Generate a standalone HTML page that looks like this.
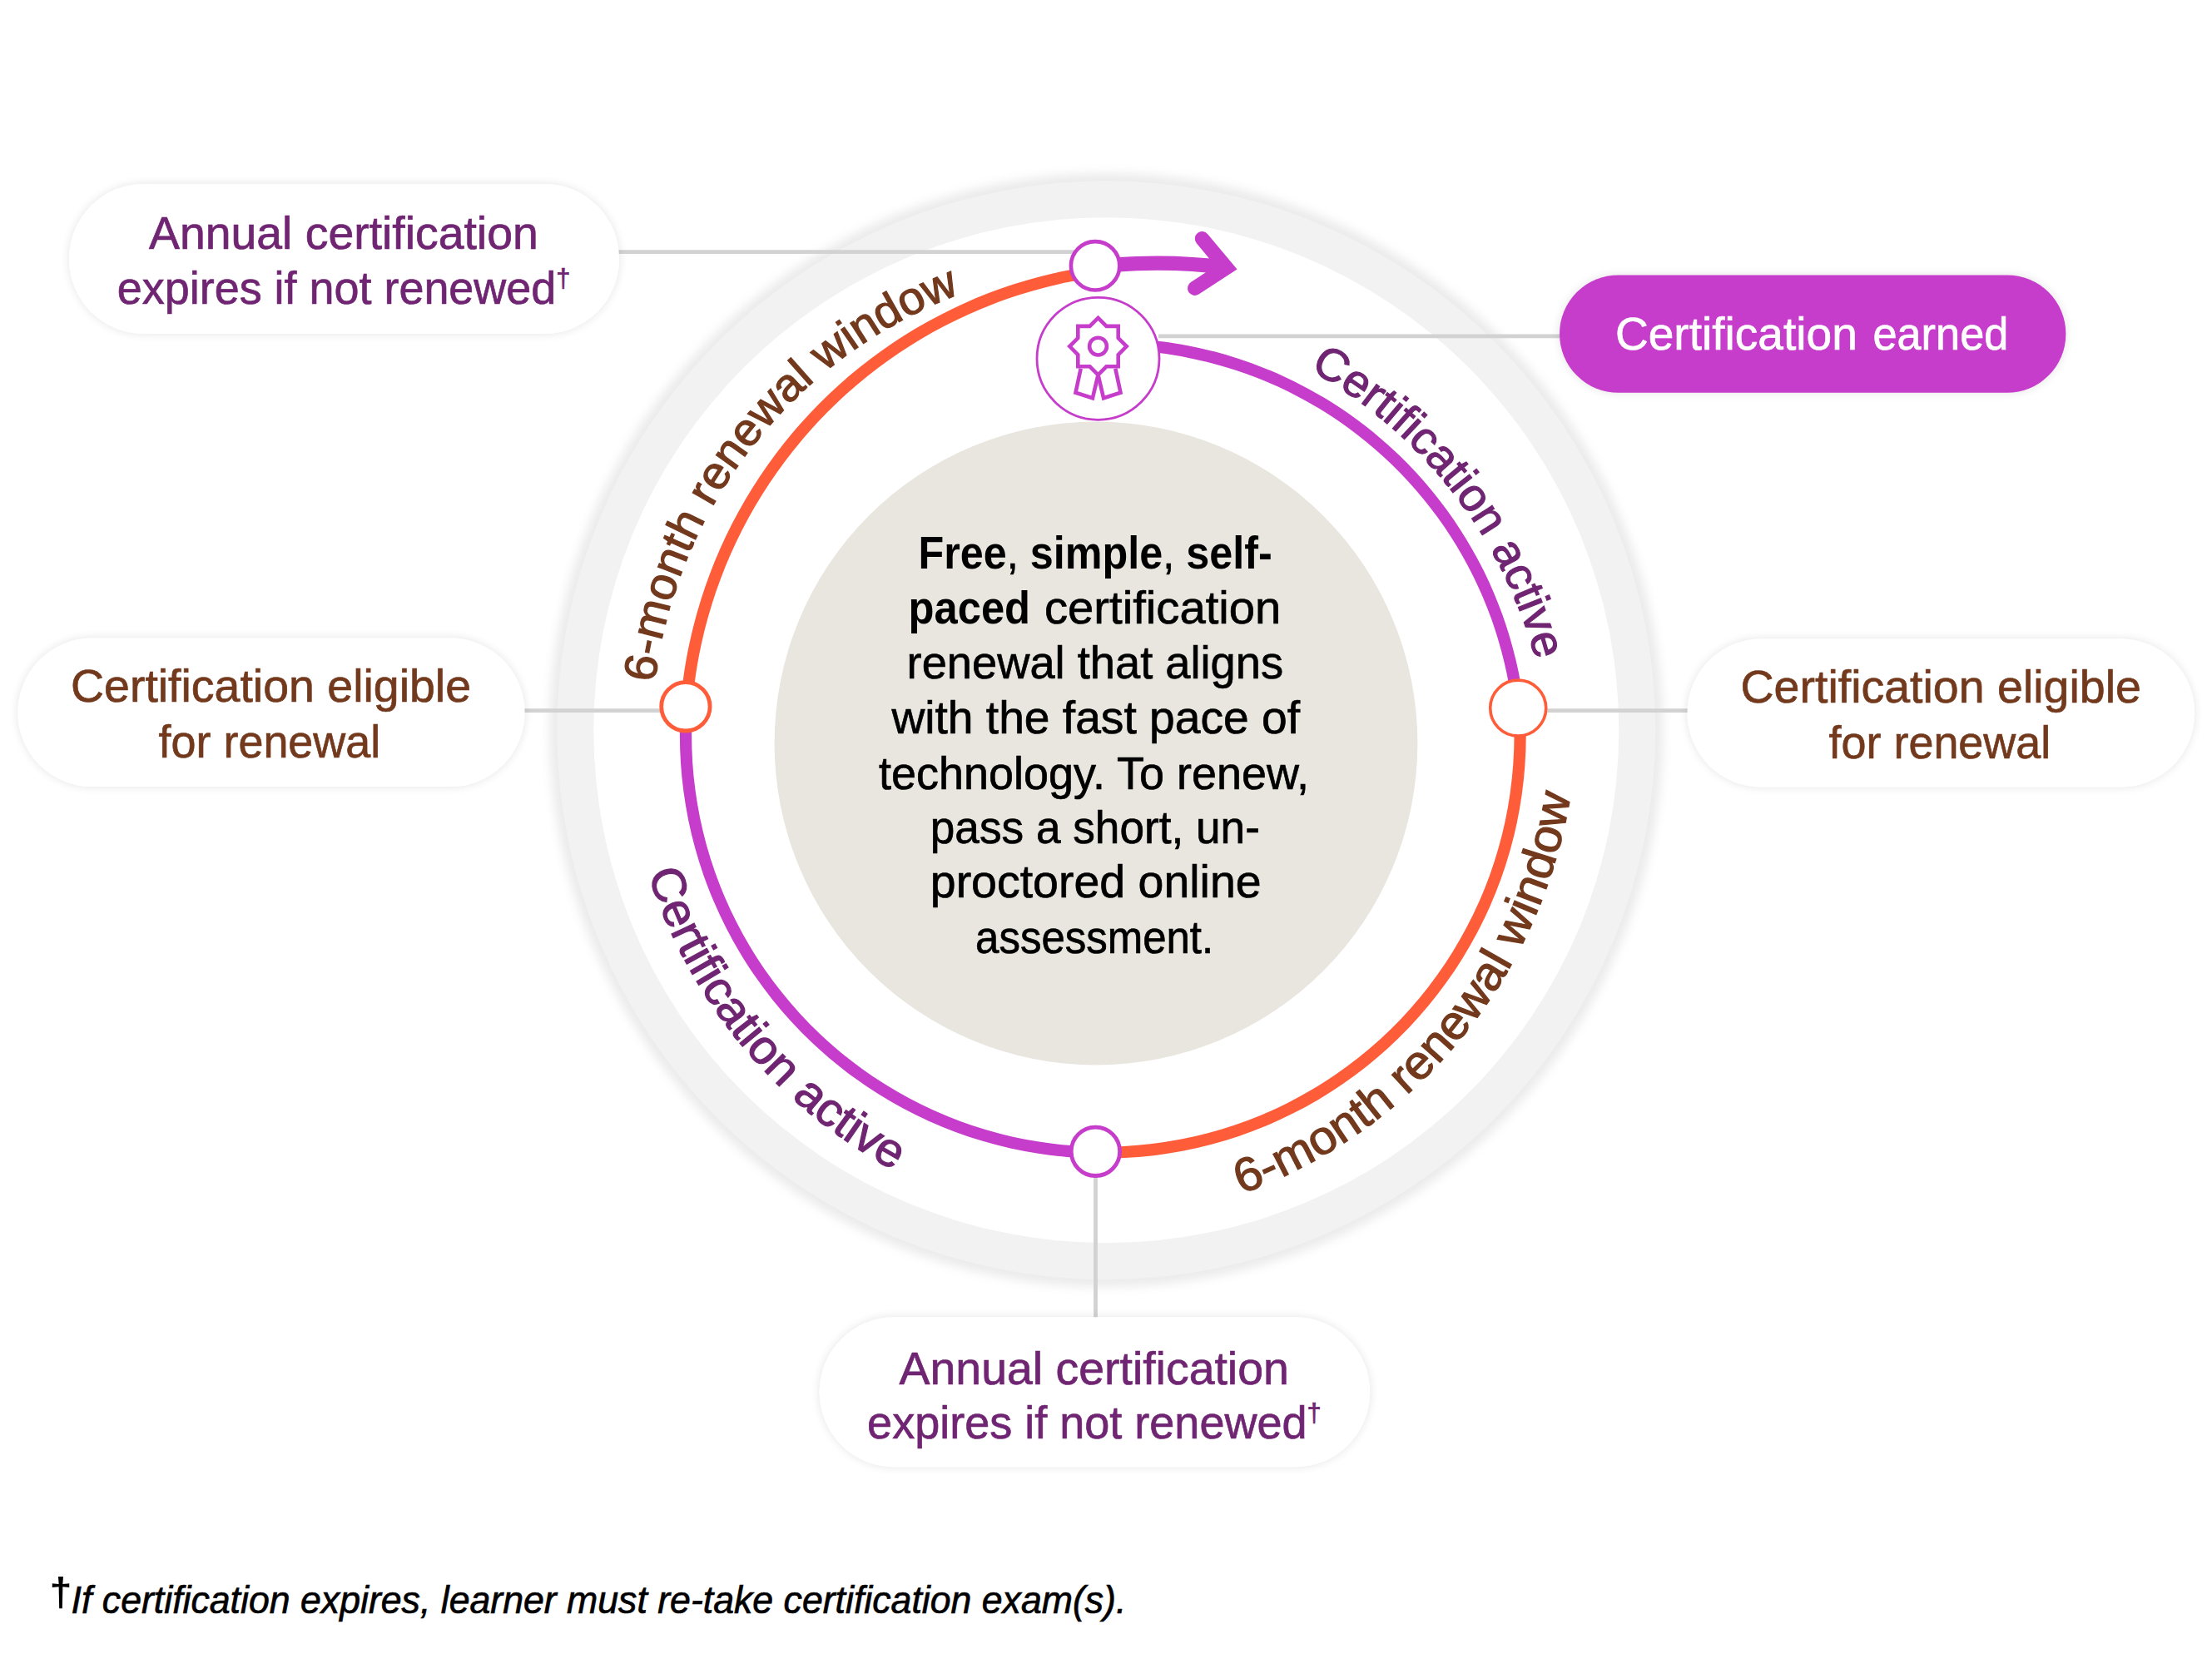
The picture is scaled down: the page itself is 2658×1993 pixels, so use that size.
<!DOCTYPE html>
<html lang="en"><head><meta charset="utf-8"><title>Certification renewal</title>
<style>html,body{margin:0;padding:0;background:#fff}svg{display:block}text{font-family:"Liberation Sans", sans-serif}</style></head>
<body>
<svg width="2658" height="1993" viewBox="0 0 2658 1993">
<defs>
<filter id="sh" x="-10%" y="-30%" width="120%" height="160%"><feGaussianBlur in="SourceAlpha" stdDeviation="6"/><feComponentTransfer><feFuncA type="linear" slope="0.11"/></feComponentTransfer><feMerge><feMergeNode/><feMergeNode in="SourceGraphic"/></feMerge></filter>
<filter id="shr" x="-5%" y="-5%" width="110%" height="110%"><feGaussianBlur stdDeviation="6"/></filter>
</defs>
<rect width="2658" height="1993" fill="#fff"/>
<circle cx="1329.3" cy="877.2" r="669" fill="#000" fill-opacity="0.078" filter="url(#shr)"/>
<circle cx="1329.3" cy="877.2" r="660" fill="#f2f2f2"/>
<circle cx="1329.3" cy="877.2" r="616" fill="#fff"/>
<g stroke="#d2d2d2" stroke-width="4.8" fill="none">
<line x1="700" y1="302.6" x2="1300" y2="302.6"/>
<line x1="1392" y1="403.8" x2="1900" y2="403.8"/>
<line x1="600" y1="853.7" x2="800" y2="853.7"/>
<line x1="1850" y1="853.7" x2="2060" y2="853.7"/>
<line x1="1316.5" y1="1400" x2="1316.5" y2="1600"/>
</g>
<rect x="83" y="221" width="661" height="180" rx="90.0" ry="90.0" fill="#fff" filter="url(#sh)"/>
<rect x="21.5" y="766.6" width="609" height="178.5" rx="89.25" ry="89.25" fill="#fff" filter="url(#sh)"/>
<rect x="2027.6" y="767.5" width="609.5" height="178" rx="89.0" ry="89.0" fill="#fff" filter="url(#sh)"/>
<rect x="984.7" y="1582.3" width="661.4" height="180" rx="90.0" ry="90.0" fill="#fff" filter="url(#sh)"/>
<rect x="1874" y="330.4" width="608.4" height="141.4" rx="70.7" ry="70.7" fill="#c63ccb" filter="url(#sh)"/>
<circle cx="1317" cy="893" r="386.4" fill="#e8e6df"/>
<g fill="none" stroke-width="14.2">
<path d="M1375.1,415.1 C1379.7,415.7 1393.8,417.0 1403.1,418.3 C1412.4,419.7 1421.7,421.3 1430.9,423.2 C1440.1,425.0 1449.3,427.2 1458.4,429.5 C1467.5,431.9 1476.5,434.6 1485.5,437.5 C1494.4,440.4 1503.3,443.5 1512.1,447.0 C1520.8,450.4 1529.5,454.0 1538.1,457.9 C1546.6,461.8 1555.1,466.0 1563.4,470.4 C1571.7,474.7 1579.9,479.4 1588.0,484.2 C1596.0,489.1 1604.0,494.1 1611.7,499.4 C1619.5,504.7 1627.1,510.3 1634.6,516.0 C1642.0,521.7 1649.3,527.7 1656.4,533.8 C1663.6,540.0 1670.5,546.3 1677.3,552.9 C1684.0,559.4 1690.6,566.2 1697.0,573.1 C1703.3,580.0 1709.5,587.1 1715.5,594.4 C1721.4,601.7 1727.2,609.1 1732.7,616.7 C1738.3,624.3 1743.6,632.1 1748.7,640.0 C1753.8,647.9 1758.7,655.9 1763.3,664.1 C1768.0,672.3 1772.4,680.6 1776.6,689.0 C1780.7,697.4 1784.7,706.0 1788.4,714.7 C1792.0,723.3 1795.5,732.1 1798.7,740.9 C1801.8,749.8 1804.8,758.7 1807.4,767.7 C1810.1,776.8 1812.5,785.9 1814.7,795.0 C1816.9,804.2 1818.8,813.4 1820.4,822.6 C1822.0,831.9 1823.8,845.9 1824.5,850.6" stroke="#c63ccb"/>
<path d="M1825.5,850.5 C1825.7,856.3 1826.6,873.5 1826.6,885.0 C1826.6,896.6 1826.1,908.1 1825.3,919.6 C1824.5,931.0 1823.2,942.5 1821.6,953.9 C1820.0,965.3 1818.0,976.7 1815.6,987.9 C1813.2,999.2 1810.4,1010.4 1807.2,1021.4 C1804.0,1032.5 1800.5,1043.5 1796.6,1054.3 C1792.6,1065.1 1788.3,1075.8 1783.7,1086.4 C1779.0,1096.9 1774.0,1107.3 1768.6,1117.4 C1763.2,1127.6 1757.5,1137.6 1751.4,1147.4 C1745.4,1157.2 1739.0,1166.8 1732.2,1176.1 C1725.5,1185.5 1718.5,1194.6 1711.1,1203.5 C1703.8,1212.3 1696.1,1221.0 1688.2,1229.3 C1680.2,1237.6 1672.0,1245.7 1663.5,1253.5 C1655.0,1261.2 1646.2,1268.7 1637.2,1275.9 C1628.2,1283.0 1618.9,1289.9 1609.4,1296.4 C1599.9,1302.9 1590.2,1309.2 1580.3,1315.0 C1570.4,1320.9 1560.2,1326.4 1550.0,1331.5 C1539.7,1336.7 1529.2,1341.5 1518.6,1346.0 C1507.9,1350.4 1497.1,1354.5 1486.2,1358.2 C1475.3,1361.9 1464.3,1365.2 1453.2,1368.1 C1442.0,1371.1 1430.8,1373.6 1419.5,1375.8 C1408.2,1377.9 1396.8,1379.7 1385.3,1381.1 C1373.9,1382.5 1362.4,1383.5 1350.9,1384.0 C1339.4,1384.6 1322.1,1384.5 1316.4,1384.6" stroke="#ff5c39"/>
<path d="M1316.4,1384.6 C1310.7,1384.3 1293.8,1383.8 1282.6,1382.9 C1271.3,1381.9 1260.1,1380.6 1248.9,1378.8 C1237.8,1377.1 1226.6,1375.0 1215.6,1372.6 C1204.6,1370.1 1193.7,1367.2 1182.9,1364.0 C1172.0,1360.8 1161.3,1357.3 1150.7,1353.3 C1140.1,1349.4 1129.7,1345.1 1119.4,1340.5 C1109.1,1335.8 1098.9,1330.8 1089.0,1325.5 C1079.0,1320.2 1069.3,1314.5 1059.7,1308.5 C1050.1,1302.6 1040.7,1296.3 1031.6,1289.6 C1022.4,1283.0 1013.5,1276.1 1004.8,1268.9 C996.1,1261.7 987.7,1254.1 979.5,1246.4 C971.3,1238.6 963.4,1230.5 955.8,1222.2 C948.2,1213.9 940.8,1205.3 933.8,1196.5 C926.7,1187.6 920.0,1178.6 913.5,1169.3 C907.1,1160.0 900.9,1150.5 895.2,1140.8 C889.4,1131.2 883.9,1121.3 878.8,1111.2 C873.6,1101.2 868.8,1090.9 864.4,1080.5 C859.9,1070.2 855.9,1059.6 852.1,1049.0 C848.4,1038.3 845.0,1027.5 842.0,1016.6 C839.0,1005.7 836.4,994.7 834.1,983.7 C831.9,972.6 830.0,961.5 828.5,950.3 C827.0,939.1 825.8,927.9 825.1,916.6 C824.4,905.3 824.0,894.0 824.0,882.7 C824.0,871.5 825.0,854.5 825.2,848.9" stroke="#c63ccb"/>
<path d="M824.5,848.8 C825.1,843.5 826.5,827.4 828.0,816.7 C829.4,806.1 831.2,795.5 833.2,784.9 C835.3,774.3 837.7,763.8 840.3,753.4 C842.9,743.0 845.9,732.6 849.1,722.3 C852.3,712.1 855.9,701.9 859.7,691.8 C863.4,681.7 867.5,671.8 871.9,661.9 C876.3,652.1 880.9,642.4 885.8,632.8 C890.7,623.2 895.9,613.8 901.3,604.5 C906.8,595.2 912.5,586.0 918.4,577.1 C924.4,568.1 930.6,559.3 937.0,550.7 C943.5,542.1 950.2,533.6 957.1,525.4 C964.0,517.1 971.2,509.1 978.5,501.2 C985.9,493.4 993.5,485.8 1001.3,478.4 C1009.1,470.9 1017.1,463.7 1025.3,456.8 C1033.5,449.8 1041.9,443.1 1050.5,436.6 C1059.1,430.1 1067.9,423.8 1076.8,417.8 C1085.8,411.9 1094.9,406.1 1104.1,400.6 C1113.4,395.1 1122.8,389.9 1132.4,385.0 C1141.9,380.0 1151.6,375.3 1161.4,370.9 C1171.2,366.5 1181.2,362.3 1191.2,358.5 C1201.3,354.6 1211.5,351.1 1221.7,347.8 C1232.0,344.5 1242.3,341.5 1252.7,338.8 C1263.1,336.1 1273.6,333.7 1284.2,331.6 C1294.7,329.5 1310.7,327.1 1316.0,326.2" stroke="#ff5c39"/>
</g>
<g fill="none" stroke="#c63ccb" stroke-width="17.4"><path d="M1340,318 Q1410,313 1473.6,321.6"/><path d="M1444.5,286.7 L1473.6,321.6 L1435.7,346.3" stroke-linecap="round" stroke-linejoin="miter"/></g>
<circle cx="823.9" cy="848.8" r="29.2" fill="#fff" stroke="#ff5c39" stroke-width="4.8"/>
<circle cx="1824.2" cy="850.6" r="33.5" fill="#fff" stroke="#ff5c39" stroke-width="3.6"/>
<circle cx="1316.4" cy="1383.3" r="29.2" fill="#fff" stroke="#c63ccb" stroke-width="4.8"/>
<circle cx="1316.1" cy="319.3" r="29.2" fill="#fff" stroke="#c63ccb" stroke-width="4.6"/>
<circle cx="1319.5" cy="430.8" r="73.5" fill="#fff" stroke="#c63ccb" stroke-width="2.8"/>
<g fill="none" stroke="#c63ccb" stroke-width="4.6" stroke-linejoin="miter">
<path d="M1319.5,381.9 L1329.5,391.9 L1343.7,391.9 L1343.7,406.1 L1353.7,416.1 L1343.7,426.1 L1343.7,440.3 L1329.5,440.3 L1319.5,450.3 L1309.5,440.3 L1295.3,440.3 L1295.3,426.1 L1285.3,416.1 L1295.3,406.1 L1295.3,391.9 L1309.5,391.9Z"/>
<circle cx="1319.5" cy="416.1" r="10.4"/>
<path d="M1298.7,442.7 L1292.5,471.6 L1312.9,478.2 L1319.2,451.6"/><path d="M1340.3,442.7 L1346.5,471.6 L1326.1,478.2 L1319.8,451.6"/>
</g>
<text x="179.1" y="298.6" font-size="56" fill="#702573" stroke="#702573" stroke-width="0.7" text-anchor="start" textLength="467.6" lengthAdjust="spacingAndGlyphs" >Annual certification</text>
<text x="140.8" y="365.2" font-size="56" fill="#702573" stroke="#702573" stroke-width="0.7" text-anchor="start" textLength="544.6" lengthAdjust="spacingAndGlyphs" >expires if not renewed<tspan font-size="32" dy="-20">†</tspan></text>
<text x="1080.6" y="1663" font-size="56" fill="#702573" stroke="#702573" stroke-width="0.7" text-anchor="start" textLength="468.2" lengthAdjust="spacingAndGlyphs" >Annual certification</text>
<text x="1042.1" y="1728.3" font-size="56" fill="#702573" stroke="#702573" stroke-width="0.7" text-anchor="start" textLength="545.6" lengthAdjust="spacingAndGlyphs" >expires if not renewed<tspan font-size="32" dy="-20">†</tspan></text>
<text x="85" y="843.2" font-size="56" fill="#73391d" stroke="#73391d" stroke-width="0.7" text-anchor="start" textLength="481" lengthAdjust="spacingAndGlyphs" >Certification eligible</text>
<text x="190.5" y="910.3" font-size="56" fill="#73391d" stroke="#73391d" stroke-width="0.7" text-anchor="start" textLength="266.8" lengthAdjust="spacingAndGlyphs" >for renewal</text>
<text x="2091.5" y="843.8" font-size="56" fill="#73391d" stroke="#73391d" stroke-width="0.7" text-anchor="start" textLength="481.4" lengthAdjust="spacingAndGlyphs" >Certification eligible</text>
<text x="2197.5" y="910.9" font-size="56" fill="#73391d" stroke="#73391d" stroke-width="0.7" text-anchor="start" textLength="266.8" lengthAdjust="spacingAndGlyphs" >for renewal</text>
<text x="1940.9" y="419.6" font-size="56" fill="#fff" stroke="#fff" stroke-width="0.7" text-anchor="start" textLength="290.9" lengthAdjust="spacingAndGlyphs" >Certification</text>
<text x="2250.4" y="419.6" font-size="56" fill="#fff" stroke="#fff" stroke-width="0.7" text-anchor="start" textLength="163" lengthAdjust="spacingAndGlyphs" >earned</text>
<text x="1103.5" y="683" font-size="56" fill="#000" stroke="#000" stroke-width="0.7" text-anchor="start" textLength="425.2" lengthAdjust="spacingAndGlyphs" ><tspan font-weight="bold" stroke="none">Free</tspan>, <tspan font-weight="bold" stroke="none">simple</tspan>, <tspan font-weight="bold" stroke="none">self-</tspan></text>
<text x="1091.6" y="749.3" font-size="56" fill="#000" stroke="#000" stroke-width="0.7" text-anchor="start" textLength="146.5" lengthAdjust="spacingAndGlyphs" ><tspan font-weight="bold" stroke="none">paced</tspan></text>
<text x="1255" y="749.3" font-size="56" fill="#000" stroke="#000" stroke-width="0.7" text-anchor="start" textLength="284.3" lengthAdjust="spacingAndGlyphs" >certification</text>
<text x="1089.6" y="814.9" font-size="56" fill="#000" stroke="#000" stroke-width="0.7" text-anchor="start" textLength="452.5" lengthAdjust="spacingAndGlyphs" >renewal that aligns</text>
<text x="1071.4" y="880.9" font-size="56" fill="#000" stroke="#000" stroke-width="0.7" text-anchor="start" textLength="490.6" lengthAdjust="spacingAndGlyphs" >with the fast pace of</text>
<text x="1056.1" y="947.5" font-size="56" fill="#000" stroke="#000" stroke-width="0.7" text-anchor="start" textLength="516.8" lengthAdjust="spacingAndGlyphs" >technology. To renew,</text>
<text x="1117.8" y="1012.8" font-size="56" fill="#000" stroke="#000" stroke-width="0.7" text-anchor="start" textLength="396.1" lengthAdjust="spacingAndGlyphs" >pass a short, un-</text>
<text x="1117.8" y="1078.4" font-size="56" fill="#000" stroke="#000" stroke-width="0.7" text-anchor="start" textLength="397.8" lengthAdjust="spacingAndGlyphs" >proctored online</text>
<text x="1172.1" y="1145.4" font-size="56" fill="#000" stroke="#000" stroke-width="0.7" text-anchor="start" textLength="286.1" lengthAdjust="spacingAndGlyphs" >assessment.</text>
<text x="59.4" y="1928.5" font-size="48.5" font-weight="bold" fill="#000">†</text>
<text x="85.6" y="1937.6" font-size="46.5" fill="#000" stroke="#000" stroke-width="0.7" text-anchor="start" textLength="1267.8" lengthAdjust="spacingAndGlyphs" font-style="italic">If certification expires, learner must re-take certification exam(s).</text>
<defs>
<path id="tp1" d="M786.9,820.1 A572.2,572.2 0 0 1 1210.8,335.1" fill="none"/>
<path id="tp2" d="M1573.7,444.4 A563.6,563.6 0 0 1 1857.5,851.1" fill="none"/>
<path id="tp3" d="M778.6,1049.1 A617.5,617.5 0 0 0 1132.9,1433.7" fill="none"/>
<path id="tp4" d="M1491.5,1434.6 A613,613 0 0 0 1893.9,891.2" fill="none"/>
</defs>
<text font-size="55" fill="#73391d" stroke="#73391d" stroke-width="1.2"><textPath href="#tp1" startOffset="0" textLength="624.2" lengthAdjust="spacingAndGlyphs">6-month renewal window</textPath></text>
<text font-size="55" fill="#702573" stroke="#702573" stroke-width="1.2"><textPath href="#tp2" startOffset="0" textLength="454.5" lengthAdjust="spacingAndGlyphs">Certification active</textPath></text>
<text font-size="57" fill="#702573" stroke="#702573" stroke-width="1.2"><textPath href="#tp3" startOffset="0" textLength="475.3" lengthAdjust="spacingAndGlyphs">Certification active</textPath></text>
<text font-size="57" fill="#73391d" stroke="#73391d" stroke-width="1.2"><textPath href="#tp4" startOffset="0" textLength="652.1" lengthAdjust="spacingAndGlyphs">6-month renewal window</textPath></text>
</svg>
</body></html>
